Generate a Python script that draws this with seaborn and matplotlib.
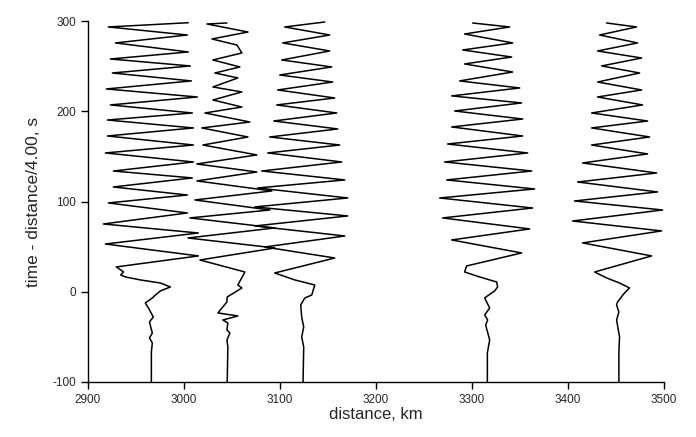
import numpy as np
import pandas as pd
import matplotlib
matplotlib.use("Agg")
import matplotlib.pyplot as plt
import seaborn as sns

# trace distances (km)
distances = [2966, 3045, 3124, 3316, 3453]

# reduced time (s) and amplitude offset (km) at each vertex, per trace
t1 = [298.1, 293.4, 284.5, 275.7, 265.7, 257.9, 250.2, 242.4, 233.6, 224.7, 215.8, 207.0, 198.1, 190.3,
      181.5, 172.6, 162.6, 153.8, 143.8, 133.8, 126.1, 116.1, 107.2, 98.4, 87.3, 75.1, 65.1, 52.9, 39.7, 27.5,
      22.0, 18.6, 16.4, 13.1, 9.7, 5.3, 0.9, -3.6, -6.9, -12.4, -18.0, -28.0, -33.5, -45.7, -51.2, -56.7, -66.7, -100]
a1 = [38.5, -44.8, 37.5, -37.5, 38.5, -42.7, 40.6, -40.6, 41.7, -46.9, 47.9, -42.7, 42.7, -45.8,
      43.8, -45.8, 43.8, -47.9, 43.8, -39.6, 42.7, -39.6, 37.5, -44.8, 37.5, -50.0, 49.0, -47.9, 49.0, -36.5,
      -29, -32, -27, -11.5, 9.4, 19.8, 9.4, 4.2, 1, -6.3, -3, 2, -2, 1, -2, 1, 0, 0]

t2 = [297.8, 296.7, 287.8, 280.1, 273.4, 264.6, 256.8, 249.1, 242.4, 236.9, 226.9, 221.4, 212.5, 204.7,
      198.1, 188.1, 181.5, 171.5, 162.6, 151.6, 141.6, 132.7, 122.8, 111.7, 101.7, 90.6, 81.8, 70.7, 59.6,
      48.5, 35.2, 21.9, 7.5, 4.2, -5.8, -11.3, -23.5, -26.8, -31.3, -34.6, -42.3, -45.7, -53.4, -61.2, -100]
a2 = [-0.3, -21.1, 21.6, -15.9, 10.1, 15.3, -14.9, 13.2, -12.8, 11.1, -14.9, 15.3, -14.9, 15.3,
      -23.2, 23.6, -26.4, 21.6, -25.3, 30.9, -31.6, 30.9, -31.6, 46.6, -33.6, 44.5, -38.9, 49.7, -40.9,
      49.7, -28.4, 18.4, 11.1, 15.3, 0, -0.3, -9.7, 11.1, -4.5, 0.7, -0.3, 2.8, -0.3, 0.7, 0]

t3 = [298.9, 293.4, 284.5, 275.7, 266.8, 256.8, 249.1, 240.2, 232.4, 223.6, 214.7, 207.0, 198.1, 189.2,
      180.4, 171.5, 162.6, 153.8, 143.8, 133.8, 123.9, 115.0, 103.9, 94.0, 84.0, 72.9, 61.8, 49.6, 37.4, 20.8,
      13.1, 7.5, -3.6, -6.9, -14.6, -28.0, -39.0, -50.1, -61.2, -100]
a3 = [22.6, -19.1, 27.8, -21.2, 27.8, -22.2, 29.9, -24.3, 30.9, -26.4, 33.0, -27.4, 35.1, -30.5,
      36.2, -34.7, 38.2, -36.8, 40.3, -43.0, 43.5, -47.2, 46.6, -50.3, 46.6, -50.3, 43.5, -39.9, 33.0, -29.5,
      -8.6, 12.2, 9.1, 1.8, -2.4, -1.4, 0.7, -1.4, 0.7, 0]

t4 = [297.8, 293.4, 285.6, 275.7, 267.9, 260.1, 252.4, 243.5, 233.6, 225.8, 217.0, 209.2, 200.3, 191.4,
      182.6, 172.6, 163.7, 153.8, 143.8, 133.8, 123.9, 113.9, 103.9, 92.8, 81.8, 69.6, 57.4, 43.0, 28.6, 21.9,
      16.4, 10.8, 5.3, 0.9, -4.7, -6.9, -18.0, -25.7, -31.3, -36.8, -53.4, -67.8, -100]
a4 = [-15.3, 23.2, -23.7, 26.4, -25.7, 25.3, -23.7, 26.4, -28.9, 33.7, -37.2, 35.7, -34.1, 36.8,
      -37.2, 36.8, -41.4, 42.0, -44.5, 46.2, -42.4, 49.3, -49.7, 47.2, -46.6, 44.1, -37.2, 35.7, -21.6, -23.7,
      -8, 9.7, 10.7, 7.6, 0, -2.8, 2.4, -2.8, 0.3, -1.8, 2.4, 0, 0]

t5 = [297.8, 293.4, 284.5, 275.7, 266.8, 259.0, 250.2, 242.4, 232.4, 223.6, 215.8, 207.0, 198.1, 189.2,
      181.5, 171.5, 162.6, 152.7, 142.7, 131.6, 121.6, 110.6, 100.6, 90.6, 78.4, 67.4, 54.1, 39.7, 21.9,
      15.3, 9.7, 4.2, -1.3, -11.3, -14.6, -22.4, -31.3, -50.1, -66.7, -100]
a5 = [-12.8, 18.4, -20.1, 19.5, -22.2, 23.7, -18.0, 21.6, -22.2, 23.7, -22.2, 24.7, -28.4, 29.9,
      -28.4, 32.0, -28.4, 29.9, -37.8, 39.3, -43.0, 40.3, -46.2, 45.5, -48.2, 44.5, -37.8, 34.1, -25.3,
      -12.8, 0.7, 11.1, 5.9, -1.4, -2.4, 0, -2.4, 0.7, 0, 0]

x_ticks = [2900, 3000, 3100, 3200, 3300, 3400, 3500]
y_ticks = [-100, 0, 100, 200, 300]

times = [t1, t2, t3, t4, t5]
amps = [a1, a2, a3, a4, a5]
frames = []
for i, (d, t, a) in enumerate(zip(distances, times, amps)):
    frames.append(pd.DataFrame({"trace": i, "t": t, "x": np.array(a) + d}))
df = pd.concat(frames, ignore_index=True)

sns.set_style("white")
plt.rcParams["font.family"] = ["Liberation Sans", "DejaVu Sans"]
plt.rcParams["axes.unicode_minus"] = False

fig = plt.figure(figsize=(6.96, 4.37), dpi=100)
ax = fig.add_axes([88 / 696, 55 / 437, 576 / 696, 361 / 437])

sns.lineplot(data=df, x="x", y="t", units="trace", estimator=None, sort=False,
             color="black", linewidth=1.1, ax=ax, legend=False)

ax.set_xlim(2900, 3500)
ax.set_ylim(-100, 300)
ax.set_xticks(x_ticks)
ax.set_yticks(y_ticks)
ax.tick_params(direction="out", length=5, width=1, labelsize=8.5, color="black",
               bottom=True, left=True)
for s in ["top", "right"]:
    ax.spines[s].set_visible(False)
for s in ["left", "bottom"]:
    ax.spines[s].set_color("black")
    ax.spines[s].set_linewidth(1)
ax.set_xlabel("distance, km", fontsize=12, labelpad=1)
ax.set_ylabel("time - distance/4.00, s", fontsize=12.5, labelpad=8)

fig.savefig("out.png", dpi=100, facecolor="white")
